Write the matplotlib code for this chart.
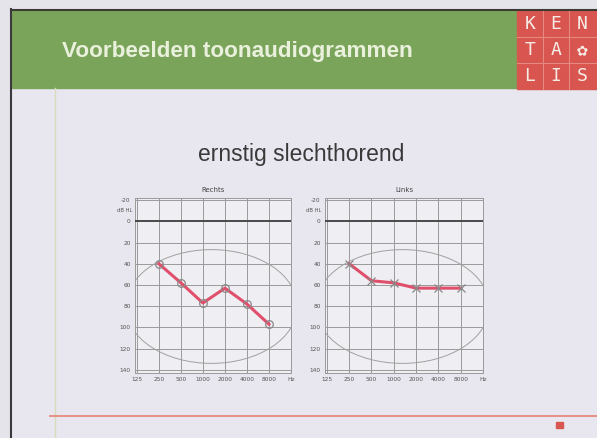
import matplotlib.pyplot as plt
import numpy as np
from matplotlib.patches import Rectangle, Ellipse

# slide texts
header = "Voorbeelden toonaudiogrammen"
title = "ernstig slechthorend"
logo = [["K", "E", "N"], ["T", "A", "✿"], ["L", "I", "S"]]

# audiogram data (dB HL)
freqs = [250, 500, 1000, 2000, 4000, 8000]
rechts = [40, 58, 77, 63, 78, 97]
links = [40, 56, 58, 63, 63, 63]
xticks = [125, 250, 500, 1000, 2000, 4000, 8000, 16000]
xlabels = ["125", "250", "500", "1000", "2000", "4000", "8000", "Hz"]
yticks = [-20, 0, 20, 40, 60, 80, 100, 120, 140]

slide_bg = "#e8e7ef"
fig = plt.figure(figsize=(5.97, 4.38), dpi=100)
fig.patch.set_facecolor("#e4e4ea")

# slide layer in pixel coordinates
bg = fig.add_axes([0, 0, 1, 1], zorder=0)
bg.set_xlim(0, 597)
bg.set_ylim(438, 0)
bg.axis("off")
bg.add_patch(Rectangle((11, 9), 590, 440, color=slide_bg))
bg.plot([11, 597], [9.5, 9.5], color="#3c3a34", lw=1.5)
bg.plot([11, 11], [9, 438], color="#3c3a3c", lw=1.5)
bg.add_patch(Rectangle((12, 11), 506, 77, color="#7ba45b"))
bg.add_patch(Rectangle((517, 11), 80, 78, color="#d8564f"))
for gx in [543, 569]:
    bg.plot([gx, gx], [11, 89], color="#e58a80", lw=0.8)
for gy in [37, 63]:
    bg.plot([517, 597], [gy, gy], color="#e58a80", lw=0.8)
for r, row in enumerate(logo):
    for c, ch in enumerate(row):
        bg.text(530 + 26 * c, 24 + 26 * r, ch, color="#f6ece6", fontsize=13,
                family=["DejaVu Sans Mono", "DejaVu Sans"], ha="center", va="center")
bg.text(62, 51, header, color="#e9f0dc", fontsize=16.2, fontweight="bold",
        family="Liberation Sans", va="center")
bg.plot([55, 55], [88, 438], color="#d8dcb8", lw=1)
bg.plot([50, 597], [416, 416], color="#e88070", lw=1.2)
bg.add_patch(Rectangle((556, 422), 7, 6, color="#d8564f"))
bg.text(301, 155, title, color="#3a3a3a", fontsize=16.5,
        family="Liberation Sans", ha="center", va="center")


def audiogram(rect, name, values, marker):
    ax = fig.add_axes(rect, zorder=2)
    ax.set_facecolor("#efeff3")
    ax.set_xscale("log", base=2)
    ax.set_xlim(118, 16000)
    ax.set_ylim(143, -22)
    ax.set_xticks(xticks)
    ax.set_xticklabels(xlabels)
    ax.minorticks_off()
    ax.set_yticks(yticks)
    ax.set_yticklabels(["-20"] + [str(v) for v in yticks[1:]])
    ax.tick_params(length=0, labelsize=4.2, colors="#555555", pad=3)
    ax.grid(True, color="#9a9a9a", lw=0.7)
    for s in ax.spines.values():
        s.set_color("#9a9a9a")
        s.set_linewidth(0.7)
    ax.axhline(0, color="#4a4a4a", lw=1.4, zorder=3)
    ax.add_patch(Ellipse((0.49, 0.38), 1.1, 0.65, transform=ax.transAxes,
                         fill=False, ec="#a0a0a0", lw=0.7, zorder=2))
    ax.text(-0.02, 0.93, "dB HL", transform=ax.transAxes, fontsize=3.8,
            color="#555555", ha="right", va="center")
    ax.set_title(name, fontsize=5, color="#444444", pad=4)
    ax.plot(freqs, values, color="#e0506c", lw=2.2, zorder=4,
            marker=marker, ms=5.5, mfc="none", mec="#888888", mew=0.9)
    return ax


audiogram([135 / 597, 1 - 373 / 438, 156 / 597, 175 / 438], "Rechts", rechts, "o")
audiogram([325 / 597, 1 - 373 / 438, 158 / 597, 175 / 438], "Links", links, "x")

fig.savefig("out.png", dpi=100, facecolor=fig.get_facecolor())
